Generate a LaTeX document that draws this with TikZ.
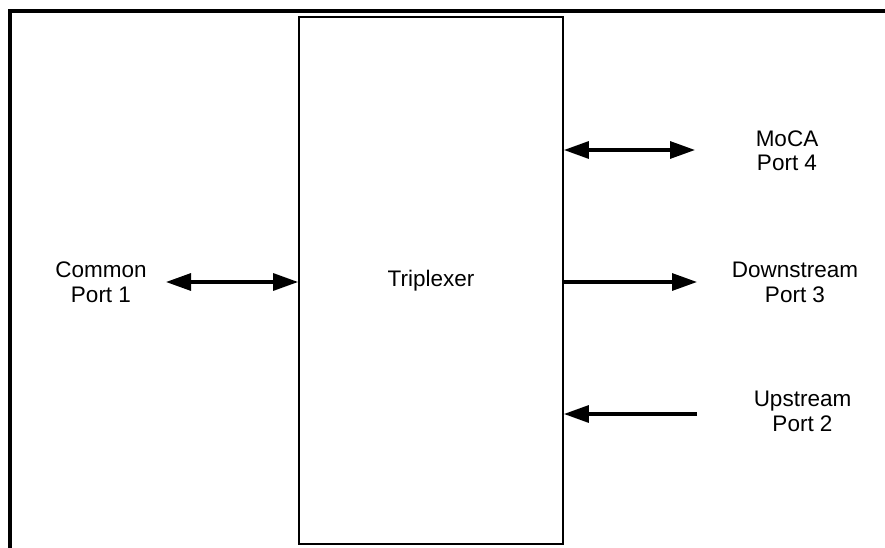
\documentclass[tikz,border=0pt]{standalone}
\usepackage{fontspec}
\setmainfont{Liberation Sans}
\usetikzlibrary{arrows.meta}
\begin{document}
\begin{tikzpicture}[x=1pt,y=-1pt,
  lbl/.style={align=center,anchor=base,inner sep=0pt,font=\fontsize{22.5}{24.5}\selectfont},
  conn/.style={line width=3.2pt,-{Triangle[length=25pt,width=17pt]}},
  conn2/.style={line width=3.2pt,{Triangle[length=25pt,width=17pt]}-{Triangle[length=25pt,width=17pt]}}]
\useasboundingbox (0,0) rectangle (885,548);
\draw[line width=4pt] (885,11) -- (9.5,11) -- (9.5,548);
\node[draw,line width=1.8pt,minimum width=264pt,minimum height=527pt,inner sep=0pt,
  font=\fontsize{22.5}{24.5}\selectfont] (trip) at (431,280.5) {Triplexer};
\node[lbl] (common) at (101,302) {Common\\Port 1};
\node[lbl] (moca) at (787,171) {MoCA\\Port 4};
\node[lbl] (down) at (795,302) {Downstream\\Port 3};
\node[lbl] (up) at (802.5,431) {Upstream\\Port 2};
\coordinate (cL) at (166,282);
\coordinate (cM) at (695,150);
\coordinate (cD) at (697,282);
\coordinate (cU) at (697,414);
\draw[conn2] (cL) -- (cL -| trip.west);
\draw[conn2] (cM -| trip.east) -- (cM);
\draw[conn] (cD -| trip.east) -- (cD);
\draw[conn] (cU) -- (cU -| trip.east);
\end{tikzpicture}
\end{document}
